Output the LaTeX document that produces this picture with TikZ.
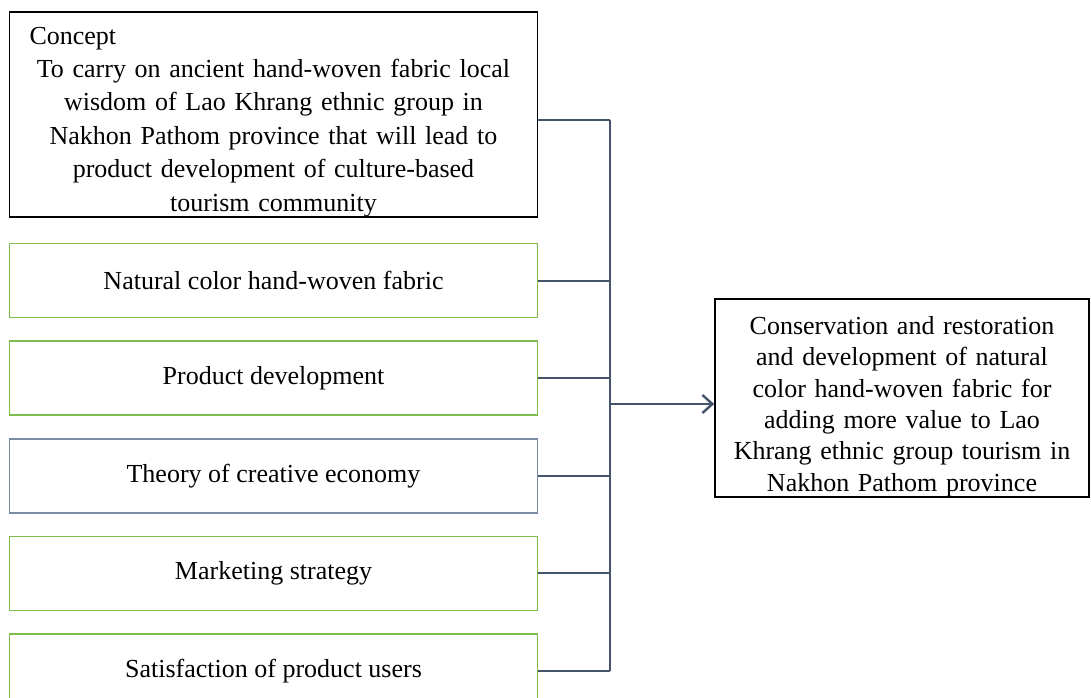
\documentclass[tikz,border=0pt]{standalone}
\usepackage{fontspec}
\setmainfont{Liberation Serif}
\usetikzlibrary{arrows.meta,positioning}
\definecolor{linkblue}{HTML}{44546A}
\definecolor{boxgreen}{HTML}{7DBB4C}
\definecolor{boxslate}{HTML}{7A8CA8}

\begin{document}
\begin{tikzpicture}[
  x=0.5pt, y=-0.5pt,
  font=\fontsize{13}{16}\selectfont,
  box/.style={draw, line width=0.8pt, inner sep=3pt, align=center, minimum width=264pt, minimum height=37pt},
  grn/.style={box, draw=boxgreen},
  conn/.style={draw=linkblue, line width=1pt},
  arr/.style={conn, line width=1.2pt, -{Straight Barb[length=5pt, width=9pt]}}
]
\useasboundingbox (0,0) rectangle (1091,697);

\node[box, minimum height=102.5pt, inner ysep=0pt, text width=258pt, font=\fontsize{13}{16.7}\selectfont] (concept) at (273.5,114.5)
  {{\raggedright\hspace*{7pt}\rule{0pt}{16pt}Concept\par}\centering
   To carry on ancient hand-woven fabric local\\
   wisdom of Lao Khrang ethnic group in\\
   Nakhon Pathom province that will lead to\\
   product development of culture-based\\
   tourism community};

\node[grn, below=12.5pt of concept] (fabric) {Natural color hand-woven fabric};
\node[grn, below=11pt of fabric] (prod) {Product development};
\node[box, draw=boxslate, below=11pt of prod] (econ) {Theory of creative economy};
\node[grn, below=11pt of econ] (mkt) {Marketing strategy};
\node[grn, below=11pt of mkt] (users) {Satisfaction of product users};

\node[box, minimum width=187pt, minimum height=99pt, inner ysep=0pt, text width=180pt, font=\fontsize{13}{15.7}\selectfont] (res) at (902,398)
  {\rule{0pt}{17.5pt}Conservation and restoration\\
   and development of natural\\
   color hand-woven fabric for\\
   adding more value to Lao\\
   Khrang ethnic group tourism in\\
   Nakhon Pathom province};

% bus on the right of the boxes
\draw[conn] ([yshift=-2.75pt]concept.east) -- ++(36pt,0) coordinate (bustop);
\foreach \b in {fabric,prod,econ,mkt,users}
  \draw[conn] (\b.east) -- (\b.east -| bustop);
\draw[conn] (bustop) -- (users.east -| bustop);

\coordinate (jn) at (610,404);
\draw[arr] (jn) -- (jn -| res.west);
\end{tikzpicture}
\end{document}
